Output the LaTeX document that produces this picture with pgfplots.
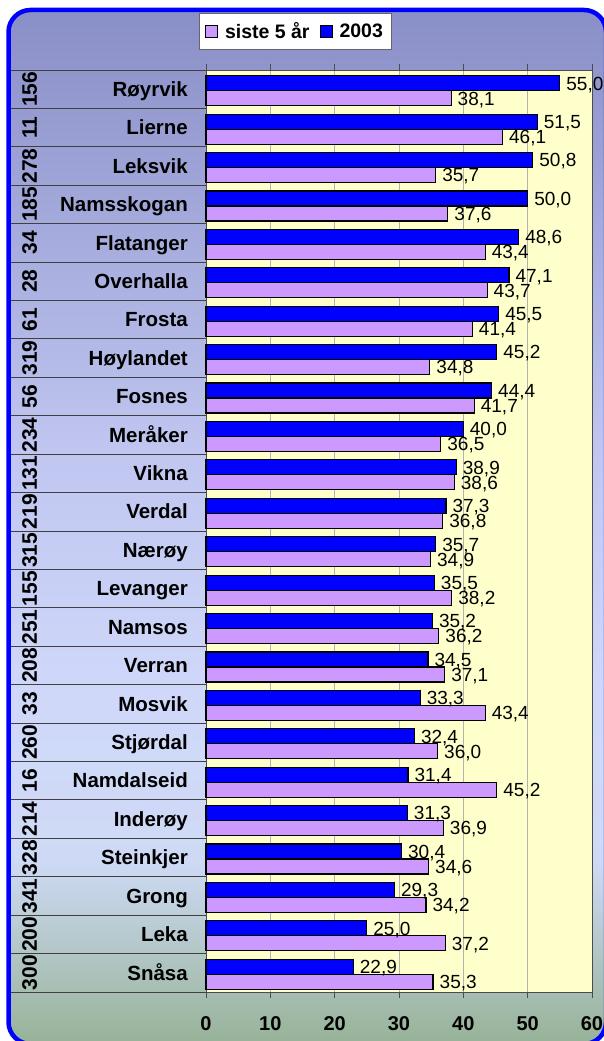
\documentclass[border=0pt]{standalone}
\usepackage{pgfplots}
\pgfplotsset{compat=1.18}
\usepackage{fontspec}
\setmainfont{Liberation Sans}
\definecolor{bgA}{RGB}{136,142,198}
\definecolor{bgB}{RGB}{192,198,240}
\definecolor{bgC}{RGB}{208,216,250}
\definecolor{bgD}{RGB}{206,218,245}
\definecolor{bgE}{RGB}{150,178,150}
\definecolor{lav}{RGB}{204,153,255}
\definecolor{plotbg}{RGB}{255,255,204}
\definecolor{frameblue}{RGB}{0,0,255}
\newcommand{\fs}[1]{\fontsize{#1}{#1}\selectfont}

\pgfplotstableread{
y x
0 38.1
1 46.1
2 35.7
3 37.6
4 43.4
5 43.7
6 41.4
7 34.8
8 41.7
9 36.5
10 38.6
11 36.8
12 34.9
13 38.2
14 36.2
15 37.1
16 43.4
17 36.0
18 45.2
19 36.9
20 34.6
21 34.2
22 37.2
23 35.3
}\siste
\pgfplotstableread{
y x
0 55.0
1 51.5
2 50.8
3 50.0
4 48.6
5 47.1
6 45.5
7 45.2
8 44.4
9 40.0
10 38.9
11 37.3
12 35.7
13 35.5
14 35.2
15 34.5
16 33.3
17 32.4
18 31.4
19 31.3
20 30.4
21 29.3
22 25.0
23 22.9
}\aar

\begin{document}
\begin{tikzpicture}[x=1pt,y=1pt]
\begin{scope}
\clip[rounded corners=22pt] (8.5,1031) rectangle (606,-3);
\shade[top color=bgA,bottom color=bgB] (0,1041.5) rectangle (610,590.5);
\shade[top color=bgB,bottom color=bgC] (0,591) rectangle (610,340.5);
\shade[top color=bgC,bottom color=bgD] (0,341) rectangle (610,180.5);
\shade[top color=bgD,bottom color=bgE] (0,181) rectangle (610,-5);
\end{scope}
\foreach \k in {0,...,24} {
  \draw[black!75,line width=0.9pt] (11,{971-\k*38.4167}) -- (206,{971-\k*38.4167});
}
\begin{axis}[
  at={(206pt,49pt)}, anchor=south west,
  scale only axis, width=386pt, height=922pt,
  xbar, bar width=15pt,
  xmin=0, xmax=60, ymin=-0.5, ymax=23.5, y dir=reverse,
  clip=false,
  axis background/.style={fill=plotbg},
  axis line style={draw=black!70, line width=0.9pt},
  xmajorgrids, grid style={draw=gray!60, line width=0.8pt},
  xtick={0,10,...,60},
  tick align=outside, major tick length=6pt,
  xtick style={draw=black!70, line width=0.8pt},
  ytick style={draw=none},
  /pgf/number format/assume math mode=true,
  xticklabel style={font=\bfseries\fs{20}, anchor=north, inner sep=0pt, yshift=-18pt},
  ytick={0,...,23},
  yticklabels={Røyrvik,Lierne,Leksvik,Namsskogan,Flatanger,Overhalla,Frosta,Høylandet,Fosnes,Meråker,Vikna,Verdal,Nærøy,Levanger,Namsos,Verran,Mosvik,Stjørdal,Namdalseid,Inderøy,Steinkjer,Grong,Leka,Snåsa},
  yticklabel style={font=\bfseries\fs{20.5}, inner sep=0pt, xshift=-12pt, anchor=base east, yshift=-7.2pt},
  extra y ticks={0,...,23},
  extra y tick labels={156,11,278,185,34,28,61,319,56,234,131,219,315,155,251,208,33,260,16,214,328,341,200,300},
  extra y tick style={ytick style={draw=none}, yticklabel style={font=\bfseries\fs{21}, yshift=7.2pt, xshift=-151pt, rotate=90, anchor=base}},
  nodes near coords={\pgfmathprintnumber[fixed,fixed zerofill,precision=1,use comma,assume math mode=true]{\pgfplotspointmeta}},
  every node near coord/.append style={font=\fs{19}, inner sep=0pt, anchor=base west, xshift=6pt, yshift=-6.8pt, black},
  legend style={at={(0.2306,1.0418)}, anchor=center, draw=black!60, fill=white, font=\bfseries\fs{19.5}, legend columns=2, inner xsep=6pt, inner ysep=7pt, /tikz/every odd column/.append style={column sep=5pt}, /tikz/every even column/.append style={column sep=8pt}},
  legend image code/.code={\draw[#1,draw=black,line width=0.9pt] (0pt,-6pt) rectangle (12pt,6pt);},
]
\addplot[fill=lav, draw=black, line width=1.2pt, bar shift=-9pt, point meta=x] table[x=x,y=y] {\siste};
\addplot[fill=frameblue, draw=black, line width=1.2pt, bar shift=6pt, point meta=x] table[x=x,y=y] {\aar};
\legend{siste 5 år, 2003}
\end{axis}
\draw[frameblue,line width=4.5pt,rounded corners=22pt] (8.5,1031) rectangle (606,-3);
\pgfresetboundingbox
\path[use as bounding box] (0,0) rectangle (603,1041);
\end{tikzpicture}
\end{document}
